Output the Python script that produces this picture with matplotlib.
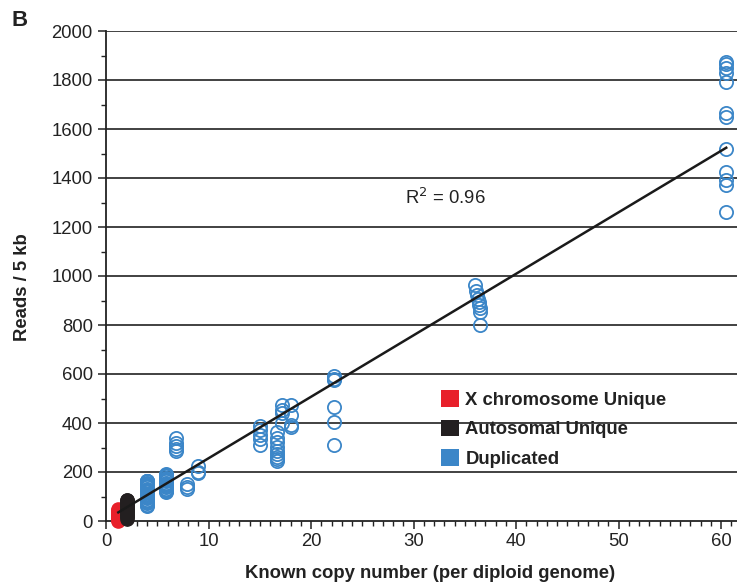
import matplotlib
matplotlib.use("Agg")
import matplotlib.pyplot as plt
from matplotlib.patches import Patch
from matplotlib.ticker import MultipleLocator
import numpy as np

plt.rcParams['font.family'] = ['Liberation Sans', 'DejaVu Sans']

# ---- data ----
x_unique_x = [1.2] * 12
y_unique_x = [2, 6, 10, 14, 18, 22, 26, 30, 35, 40, 46, 50]

auto_x = [2.0] * 17
auto_y = [10, 15, 20, 25, 30, 35, 40, 45, 50, 55, 60, 65, 70, 75, 80, 84, 86]

dup_x = ([4.0] * 24 + [5.9] * 17 +
         [6.8] * 5 + [7.9] * 3 + [9.0] * 3 +
         [15.0] * 5 + [16.7] * 9 + [17.2] * 4 + [18.0] * 4 + [22.2] * 6 +
         [36.0, 36.1, 36.2, 36.3, 36.4, 36.4, 36.5, 36.5, 36.5] +
         [60.5] * 12)
dup_y = ([62, 67, 72, 77, 82, 87, 92, 97, 102, 107, 112, 117, 122, 127, 132,
          137, 142, 147, 152, 157, 162, 165, 165, 165] +
         [118, 122, 127, 132, 137, 142, 147, 152, 157, 162, 167, 172, 177,
          182, 186, 188, 190] +
         [340, 320, 305, 295, 285] + [150, 140, 130] + [225, 200, 195] +
         [388, 370, 350, 335, 312] +
         [362, 338, 322, 302, 284, 272, 262, 252, 243] +
         [473, 453, 441, 400] + [472, 433, 392, 384] +
         [590, 580, 574, 465, 404, 310] +
         [962, 940, 922, 905, 893, 880, 870, 855, 800] +
         [1875, 1865, 1850, 1830, 1790, 1665, 1650, 1520, 1425, 1390, 1370, 1260])

fit_slope = 25.1
fit_intercept = 5.0
fit_x_range = [1.2, 60.5]
r2_text = "R$^2$ = 0.96"

legend_labels = ["X chromosome Unique", "Autosomal Unique", "Duplicated"]
RED = "#E8202A"
BLACK = "#231F20"
BLUE = "#3B86C8"
FS = 13.3

# ---- figure ----
fig = plt.figure(figsize=(7.37, 5.86), dpi=100)
L, B = 106 / 737, 65 / 586
ax = fig.add_axes([L, B, 1 - L, 490 / 586])
ax.set_xlim(0, 61.55)
ax.set_ylim(0, 2000)

for y in range(200, 2001, 200):
    ax.axhline(y, color="#333333", lw=1.3, zorder=1)

ax.plot(dup_x, dup_y, 'o', mfc='none', mec=BLUE, mew=1.3, ms=9.5, zorder=3, clip_on=False)
ax.plot(x_unique_x, y_unique_x, 'o', mfc=RED, mec=RED, ms=9.5, zorder=3, clip_on=False)
ax.plot(auto_x, auto_y, 'o', mfc=BLACK, mec=BLACK, ms=9.5, zorder=4, clip_on=False)

fx = np.array(fit_x_range)
ax.plot(fx, fit_slope * fx + fit_intercept, color="#1a1a1a", lw=1.8, zorder=5)

ax.text(33.1, 1318, r2_text, fontsize=FS, ha='center', va='center', color="#222222")

ax.spines['right'].set_visible(False)
ax.spines['top'].set_visible(False)
for s in ['left', 'bottom']:
    ax.spines[s].set_linewidth(1.3)
    ax.spines[s].set_color("#222222")

ax.xaxis.set_major_locator(MultipleLocator(10))
ax.xaxis.set_minor_locator(MultipleLocator(1))
ax.yaxis.set_major_locator(MultipleLocator(200))
ax.yaxis.set_minor_locator(MultipleLocator(100))
ax.tick_params(axis='both', which='major', labelsize=FS, length=6, width=1.1,
               direction='out', colors="#222222", labelcolor="#222222")
ax.tick_params(axis='both', which='minor', length=3.5, width=1.0, colors="#222222")
ax.tick_params(axis='x', pad=3)

ax.set_xlabel("Known copy number (per diploid genome)", fontsize=FS,
              fontweight='bold', color="#222222")
ax.xaxis.set_label_coords((430 - 106) / 631, -(573 - 521) / 490)
ax.xaxis.label.set_va('center')
ax.set_ylabel("Reads / 5 kb", fontsize=FS, fontweight='bold', color="#222222")
ax.yaxis.set_label_coords(-(106 - 22) / 631, (521 - 287) / 490)
ax.yaxis.label.set_va('center')

handles = [Patch(facecolor=c, edgecolor='none') for c in (RED, BLACK, BLUE)]
leg = ax.legend(handles, legend_labels, loc='upper left',
                bbox_to_anchor=((441 - 106) / 631, (521 - 390) / 490),
                frameon=False, borderpad=0, borderaxespad=0,
                handlelength=1.0, handleheight=1.0, handletextpad=0.32,
                labelspacing=0.6, prop={'weight': 'bold', 'size': FS})
for t in leg.get_texts():
    t.set_color("#222222")

fig.text(12 / 737, 1 - 20 / 586, "B", fontsize=16, fontweight='bold',
         va='center', ha='left', color="#222222")

fig.savefig("out.png", dpi=100)
